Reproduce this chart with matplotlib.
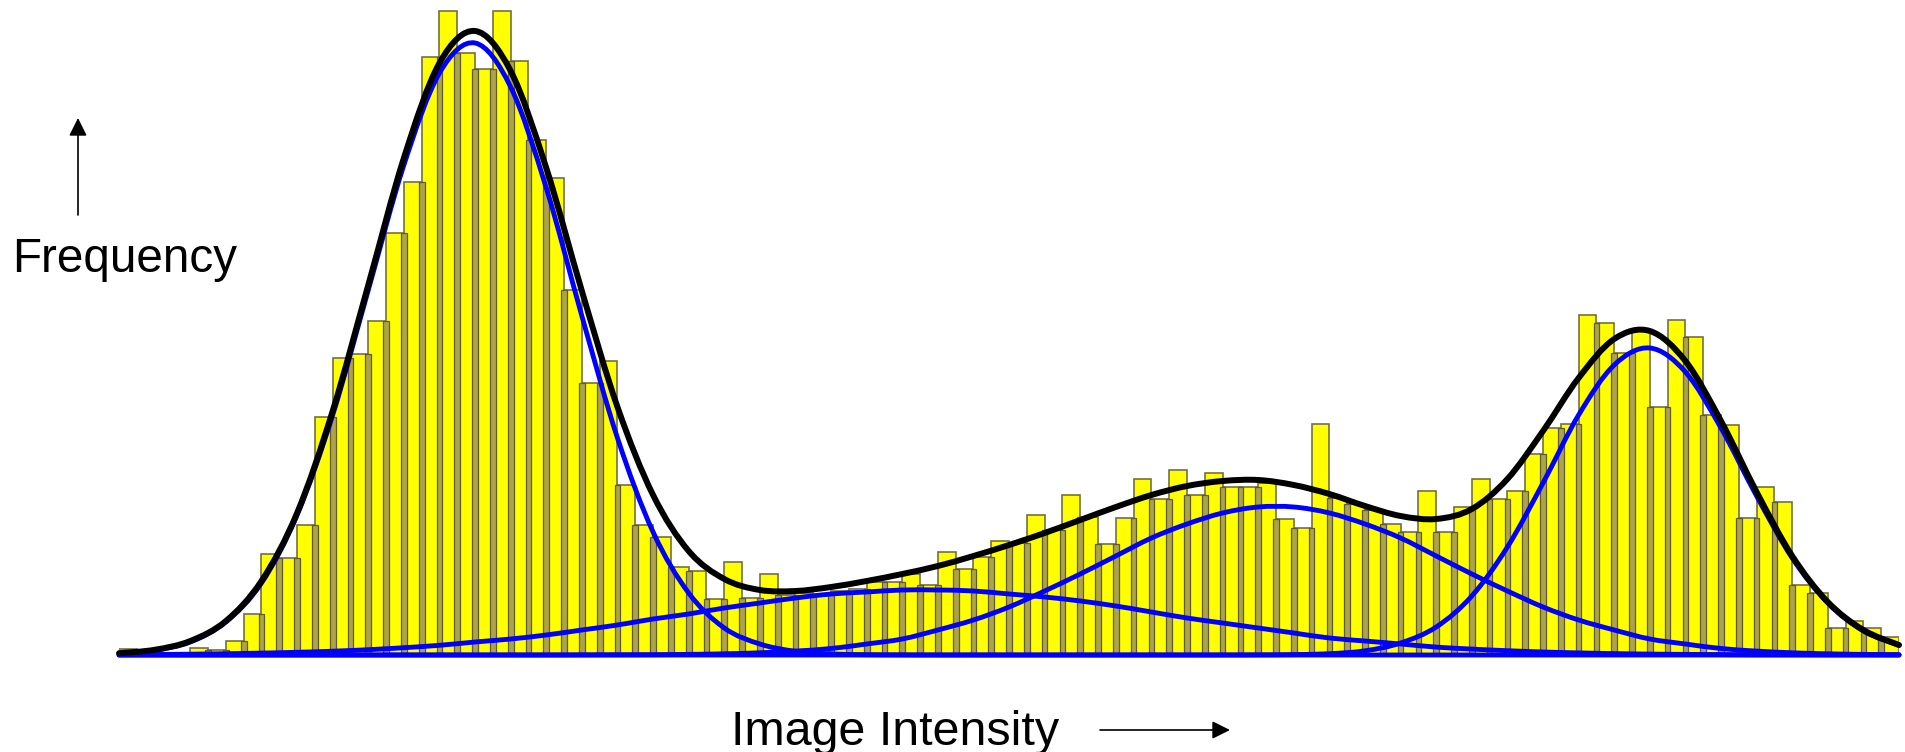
import numpy as np
import matplotlib
matplotlib.use("Agg")
import matplotlib.pyplot as plt
from matplotlib.path import Path
from matplotlib.patches import PathPatch

# histogram counts, one value per intensity bin (100 bins)
bin_counts = [6, 0, 1, 2, 7, 5, 14, 41, 101, 97,
              130, 238, 297, 301, 334, 422, 473, 598, 644, 602,
              586, 644, 594, 515, 477, 365, 272, 294, 170, 130,
              118, 88, 84, 56, 93, 57, 81, 60, 62, 60,
              64, 66, 73, 73, 81, 70, 103, 86, 98, 114,
              112, 140, 125, 160, 138, 111, 137, 176, 156, 185,
              160, 182, 168, 168, 172, 136, 127, 231, 157, 151,
              145, 131, 123, 164, 123, 148, 176, 156, 164, 201,
              227, 231, 340, 332, 302, 325, 248, 335, 318, 240,
              230, 137, 168, 153, 70, 62, 27, 34, 27, 18]

# fitted curves, read every 2 bins from bin -0.5 to 99.5
curve_x = np.arange(-0.5, 100, 2.0)
comp_1 = [1.5, 4.7, 13, 33, 72, 140, 240, 365, 490, 582, 612, 568, 467, 339, 217, 123, 62,
          27, 11, 3.7, 1.1, 0.3, 0.1] + [0.0] * 28
comp_2 = [0.3, 0.5, 0.8, 1.3, 1.9, 2.7, 3.8, 5.3, 7.3, 9.7, 13, 16, 20, 25, 30, 36, 41, 47,
          52, 57, 61, 63, 65, 65, 64, 61, 58, 54, 49, 43, 37, 32, 27, 22, 17, 14, 11, 7.9,
          5.9, 4.3, 3.0, 2.1, 1.4, 0.9, 0.6, 0.4, 0.2, 0.2, 0.1, 0.1, 0.0]
comp_3 = [0.0] * 13 + [0.1, 0.2, 0.3, 0.6, 1.2, 2.2, 3.9, 6.5, 11, 16, 25, 35, 48, 64, 81, 99,
                       117, 131, 142, 148, 148, 142, 131, 117, 99, 81, 64, 48, 35, 25, 16, 11,
                       6.5, 3.9, 2.2, 1.2, 0.6, 0.3]
comp_4 = [0.0] * 32 + [0.1, 0.4, 1.3, 4.2, 12, 28, 59, 108, 172, 240, 290, 307, 283, 227, 159,
                       97, 52, 24, 9.7]
mixture = [1.8, 5.2, 14, 34, 74, 142, 244, 370, 497, 592, 624, 584, 487, 364, 248, 160, 104,
           76, 65, 64, 68, 74, 81, 89, 99, 110, 122, 135, 148, 160, 169, 174, 175, 170, 161,
           149, 139, 136, 146, 176, 224, 277, 316, 324, 294, 234, 163, 99, 53, 25, 10]


def smooth_path(x, y):
    # catmull-rom through the read points, drawn as cubic bezier segments
    pts = np.column_stack([x, y])
    p = np.vstack([pts[0], pts, pts[-1]])
    verts = [pts[0]]
    codes = [Path.MOVETO]
    for i in range(len(pts) - 1):
        p0, p1, p2, p3 = p[i], p[i + 1], p[i + 2], p[i + 3]
        verts += [p1 + (p2 - p0) / 6, p2 - (p3 - p1) / 6, p2]
        codes += [Path.CURVE4] * 3
    return Path(verts, codes)


fig = plt.figure(figsize=(19.05, 7.52), dpi=100)
ax = fig.add_axes([119.1 / 1905, 97 / 752, 1779.9 / 1905, 655 / 752])

idx = np.arange(len(bin_counts))
h = np.array(bin_counts)
ax.bar(idx, h, width=1.0, color='#ffff00', edgecolor='#747040', linewidth=1.2, zorder=1)
# olive gaps between neighbouring bars
ax.bar(idx[:-1] + 0.5, np.minimum(h[:-1], h[1:]), width=0.32, color='#aca34a',
       edgecolor='#5f5c2c', linewidth=0.9, zorder=2)

for comp in [comp_1, comp_2, comp_3, comp_4]:
    ax.add_patch(PathPatch(smooth_path(curve_x, comp), fill=False, edgecolor='#0000ff',
                           lw=3.5, capstyle='round', joinstyle='round', zorder=3, clip_on=False))
ax.add_patch(PathPatch(smooth_path(curve_x, mixture), fill=False, edgecolor='black',
                       lw=4.3, capstyle='round', joinstyle='round', zorder=4, clip_on=False))

ax.set_xlim(-0.5, 99.5)
ax.set_ylim(0, 655)
ax.axis('off')

fig.text(12 / 1905, (752 - 272) / 752, 'Frequency', fontsize=34.3,
         family=['Liberation Sans', 'DejaVu Sans'], ha='left', va='baseline')
fig.text(731 / 1905, 7 / 752, 'Image Intensity', fontsize=34.8,
         family=['Liberation Sans', 'DejaVu Sans'], ha='left', va='baseline')

arrow = dict(arrowstyle='-|>', color='black', lw=1.2, mutation_scale=27, shrinkA=0, shrinkB=0)
ax.annotate('', xy=(78, 634), xytext=(78, 537), xycoords='figure pixels',
            textcoords='figure pixels', arrowprops=arrow)
ax.annotate('', xy=(1230, 22), xytext=(1100, 22), xycoords='figure pixels',
            textcoords='figure pixels', arrowprops=arrow)

fig.savefig('out.png', dpi=100)
